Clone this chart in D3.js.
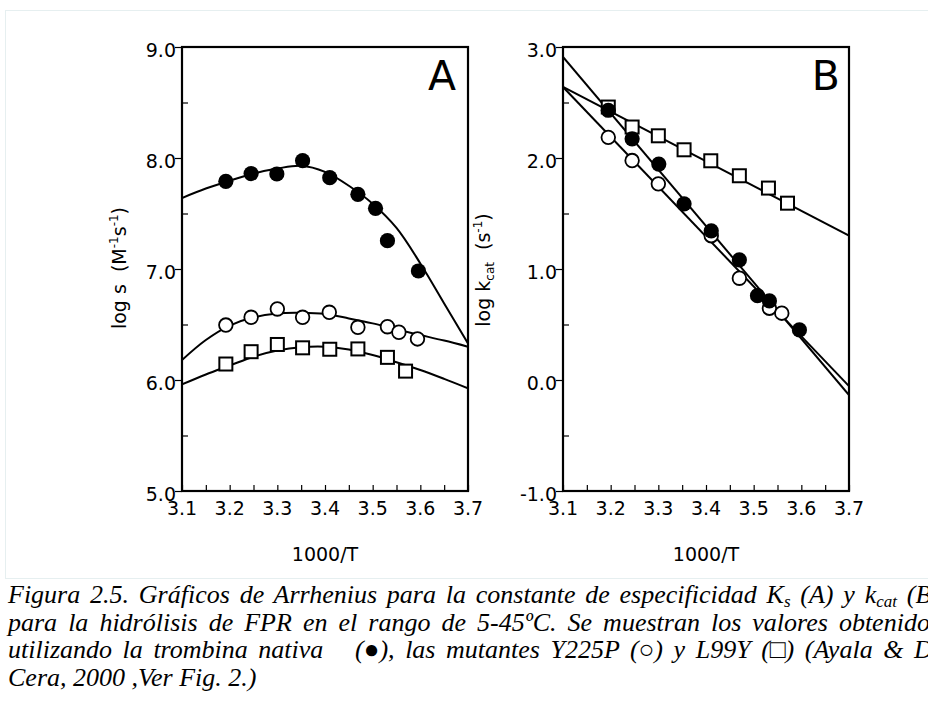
<!DOCTYPE html>
<html>
<head>
<meta charset="utf-8">
<script src="https://cdn.jsdelivr.net/npm/d3@7"></script>
<style>
  html, body { margin: 0; padding: 0; background: #fff; }
  svg { display: block; }
  .tick-label { font-family: "DejaVu Sans", Verdana, sans-serif; font-size: 19px; fill: #000; }
  .caption { font-family: "Liberation Serif", "Times New Roman", serif; font-style: italic; font-size: 26px; fill: #000; }
</style>
</head>
<body>
<svg id="fig" width="928" height="727"></svg>
<script>
// ---- Panel A: log s vs 1000/T ----
const xA_native = [3.192, 3.245, 3.299, 3.353, 3.410, 3.469, 3.506, 3.531, 3.596];
const yA_native = [7.79, 7.86, 7.856, 7.976, 7.823, 7.673, 7.547, 7.255, 6.982];
const xA_Y225P  = [3.192, 3.245, 3.300, 3.353, 3.409, 3.469, 3.531, 3.555, 3.594];
const yA_Y225P  = [6.495, 6.565, 6.640, 6.565, 6.610, 6.475, 6.480, 6.430, 6.370];
const xA_L99Y   = [3.192, 3.245, 3.300, 3.353, 3.410, 3.469, 3.531, 3.569];
const yA_L99Y   = [6.144, 6.255, 6.320, 6.290, 6.277, 6.280, 6.204, 6.080];

// fitted curves, panel A
const xA_fit        = [3.10, 3.15, 3.20, 3.25, 3.30, 3.35, 3.40, 3.45, 3.50, 3.55, 3.60, 3.65, 3.70];
const yA_fit_native = [7.64, 7.725, 7.795, 7.86, 7.905, 7.93, 7.875, 7.75, 7.588, 7.37, 7.05, 6.69, 6.33];
const yA_fit_Y225P  = [6.18, 6.36, 6.49, 6.565, 6.60, 6.605, 6.595, 6.555, 6.51, 6.455, 6.405, 6.355, 6.30];
const yA_fit_L99Y   = [5.96, 6.05, 6.13, 6.21, 6.265, 6.295, 6.30, 6.275, 6.225, 6.16, 6.09, 6.01, 5.925];

// ---- Panel B: log kcat vs 1000/T ----
const xB_native = [3.195, 3.245, 3.301, 3.354, 3.411, 3.470, 3.508, 3.533, 3.596];
const yB_native = [2.43, 2.173, 1.945, 1.587, 1.344, 1.082, 0.76, 0.712, 0.451];
const xB_Y225P  = [3.195, 3.245, 3.300, 3.411, 3.470, 3.533, 3.559];
const yB_Y225P  = [2.186, 1.977, 1.767, 1.30, 0.917, 0.647, 0.602];
const xB_L99Y   = [3.195, 3.245, 3.300, 3.354, 3.410, 3.470, 3.531, 3.571];
const yB_L99Y   = [2.459, 2.279, 2.20, 2.074, 1.975, 1.84, 1.729, 1.593];

// linear fits, panel B (end points at 1000/T = 3.1 and 3.7)
const xB_fit        = [3.1, 3.7];
const yB_fit_native = [2.91, -0.135];
const yB_fit_Y225P  = [2.64, -0.055];
const yB_fit_L99Y   = [2.64, 1.30];

// axes
const xTicks  = [3.1, 3.2, 3.3, 3.4, 3.5, 3.6, 3.7];
const yTicksA = [5, 6, 7, 8, 9];
const yTicksB = [-1, 0, 1, 2, 3];

const svg = d3.select("#fig");
svg.append("rect").attr("width", 928).attr("height", 727).attr("fill", "#fff");

// faint frame around the figure area
svg.append("rect")
  .attr("x", 5.5).attr("y", 10.5).attr("width", 940).attr("height", 568)
  .attr("fill", "none").attr("stroke", "#e6eff0").attr("stroke-width", 1);

const zip = (xs, ys) => xs.map((x, i) => [x, ys[i]]);

function panel(opts) {
  const { left, top, width, height, yDomain, yTicks, id } = opts;
  const x = d3.scaleLinear().domain([3.1, 3.7]).range([left, left + width]);
  const y = d3.scaleLinear().domain(yDomain).range([top + height, top]);
  const g = svg.append("g");

  g.append("clipPath").attr("id", id)
    .append("rect").attr("x", left).attr("y", top).attr("width", width).attr("height", height);

  // x axis: inward ticks every 0.05
  const xAxis = d3.axisBottom(x).tickValues(d3.range(3.1, 3.7001, 0.05)).tickSize(-6).tickFormat("");
  const gx = g.append("g").attr("transform", `translate(0,${top + height})`).call(xAxis);
  gx.select(".domain").remove();
  gx.selectAll("line").attr("stroke", "#000").attr("stroke-width", 1.2);
  g.append("g").selectAll("text").data(xTicks).join("text")
    .attr("class", "tick-label")
    .attr("x", d => x(d)).attr("y", top + height + 24)
    .attr("text-anchor", "middle")
    .text(d => d.toFixed(1));

  // y axis: major ticks outward, half-unit ticks inward
  const yMajor = d3.axisLeft(y).tickValues(yTicks).tickSize(7).tickFormat("");
  const gy = g.append("g").attr("transform", `translate(${left},0)`).call(yMajor);
  gy.select(".domain").remove();
  gy.selectAll("line").attr("stroke", "#000").attr("stroke-width", 1.2);
  const yMinor = d3.axisLeft(y).tickValues(yTicks.slice(0, -1).map(v => v + 0.5)).tickSize(-6).tickFormat("");
  const gm = g.append("g").attr("transform", `translate(${left},0)`).call(yMinor);
  gm.select(".domain").remove();
  gm.selectAll("line").attr("stroke", "#000").attr("stroke-width", 1.2);
  g.append("g").selectAll("text").data(yTicks).join("text")
    .attr("class", "tick-label")
    .attr("x", left - 6).attr("y", d => y(d) + 10)
    .attr("text-anchor", "end")
    .text(d => d.toFixed(1));

  // plot frame
  g.append("rect").attr("x", left).attr("y", top).attr("width", width).attr("height", height)
    .attr("fill", "none").attr("stroke", "#000").attr("stroke-width", 2.2);

  return { x, y, g, clip: `url(#${id})` };
}

function drawFit(p, pts, curve) {
  const line = d3.line().x(d => p.x(d[0])).y(d => p.y(d[1])).curve(curve);
  p.g.append("path").attr("d", line(pts)).attr("clip-path", p.clip)
    .attr("fill", "none").attr("stroke", "#000").attr("stroke-width", 2);
}
function drawSquares(p, pts) {
  p.g.append("g").selectAll("rect").data(pts).join("rect")
    .attr("x", d => p.x(d[0]) - 6.5).attr("y", d => p.y(d[1]) - 6.5)
    .attr("width", 13).attr("height", 13)
    .attr("fill", "#fff").attr("stroke", "#000").attr("stroke-width", 2);
}
function drawOpen(p, pts) {
  p.g.append("g").selectAll("circle").data(pts).join("circle")
    .attr("cx", d => p.x(d[0])).attr("cy", d => p.y(d[1])).attr("r", 6.8)
    .attr("fill", "#fff").attr("stroke", "#000").attr("stroke-width", 1.8);
}
function drawFilled(p, pts) {
  p.g.append("g").selectAll("circle").data(pts).join("circle")
    .attr("cx", d => p.x(d[0])).attr("cy", d => p.y(d[1])).attr("r", 7.6)
    .attr("fill", "#000");
}

// Panel A
const pA = panel({ left: 182, top: 47, width: 286, height: 444, yDomain: [5, 9], yTicks: yTicksA, id: "clipA" });
drawFit(pA, zip(xA_fit, yA_fit_native), d3.curveCatmullRom);
drawFit(pA, zip(xA_fit, yA_fit_Y225P), d3.curveCatmullRom);
drawFit(pA, zip(xA_fit, yA_fit_L99Y), d3.curveCatmullRom);
drawSquares(pA, zip(xA_L99Y, yA_L99Y));
drawOpen(pA, zip(xA_Y225P, yA_Y225P));
drawFilled(pA, zip(xA_native, yA_native));

// Panel B
const pB = panel({ left: 563, top: 47, width: 286, height: 444, yDomain: [-1, 3], yTicks: yTicksB, id: "clipB" });
drawFit(pB, zip(xB_fit, yB_fit_native), d3.curveLinear);
drawFit(pB, zip(xB_fit, yB_fit_Y225P), d3.curveLinear);
drawFit(pB, zip(xB_fit, yB_fit_L99Y), d3.curveLinear);
drawSquares(pB, zip(xB_L99Y, yB_L99Y));
drawOpen(pB, zip(xB_Y225P, yB_Y225P));
drawFilled(pB, zip(xB_native, yB_native));

// panel letters
svg.append("text").attr("x", 456).attr("y", 90).attr("text-anchor", "end")
  .style("font-family", "DejaVu Sans, sans-serif").style("font-size", "41px").text("A");
svg.append("text").attr("x", 840).attr("y", 90).attr("text-anchor", "end")
  .style("font-family", "DejaVu Sans, sans-serif").style("font-size", "41px").text("B");

// x-axis titles
[[325, "1000/T"], [706, "1000/T"]].forEach(([cx, t]) => {
  svg.append("text").attr("class", "tick-label").attr("x", cx).attr("y", 561)
    .attr("text-anchor", "middle").text(t);
});

// y-axis titles
const ya = svg.append("text").attr("class", "tick-label")
  .attr("transform", "translate(126,268) rotate(-90)").attr("text-anchor", "middle")
  .attr("xml:space", "preserve").style("white-space", "pre");
ya.append("tspan").text("log s  (M");
ya.append("tspan").attr("dy", -8).style("font-size", "12px").text("-1");
ya.append("tspan").attr("dy", 8).text("s");
ya.append("tspan").attr("dy", -8).style("font-size", "12px").text("-1");
ya.append("tspan").attr("dy", 8).text(")");

const yb = svg.append("text").attr("class", "tick-label")
  .attr("transform", "translate(490,270) rotate(-90)").attr("text-anchor", "middle")
  .attr("xml:space", "preserve").style("white-space", "pre");
yb.append("tspan").text("log k");
yb.append("tspan").attr("dy", 4).style("font-size", "12px").text("cat");
yb.append("tspan").attr("dy", -4).text("  (s");
yb.append("tspan").attr("dy", -8).style("font-size", "12px").text("-1");
yb.append("tspan").attr("dy", 8).text(")");

// caption: justified paragraph running past the right edge, last line left-aligned
const capLines = [
  [["Figura 2.5. Gráficos de Arrhenius para la constante de especificidad K"], ["s", "sub"], [" (A) y k"], ["cat", "sub"], [" (B)"]],
  [["para la hidrólisis de FPR en el rango de 5-45ºC. Se muestran los valores obtenidos"]],
  [["utilizando la trombina nativa   (●), las mutantes Y225P (○) y L99Y (□) (Ayala & Di"]],
  [["Cera, 2000 ,Ver Fig. 2.)"]]
];
const capY = [603, 630.5, 658, 685.5];
const capLeft = 8, capRight = 940;
capLines.forEach((parts, i) => {
  const t = svg.append("text").attr("class", "caption")
    .attr("x", capLeft).attr("y", capY[i])
    .attr("xml:space", "preserve").style("white-space", "pre");
  parts.forEach(([s, kind]) => {
    const sp = t.append("tspan").text(s);
    if (kind === "sub") sp.attr("dy", 4).style("font-size", "17px");
    else if (t.node().childNodes.length > 1) sp.attr("dy", -4);
  });
  if (i < capLines.length - 1) {
    const full = parts.map(p => p[0]).join("");
    const spaces = (full.match(/ /g) || []).length;
    const natural = t.node().getComputedTextLength();
    const extra = Math.max(0, (capRight - capLeft - natural) / spaces);
    t.style("word-spacing", `${extra}px`);
  }
});
</script>
</body>
</html>
